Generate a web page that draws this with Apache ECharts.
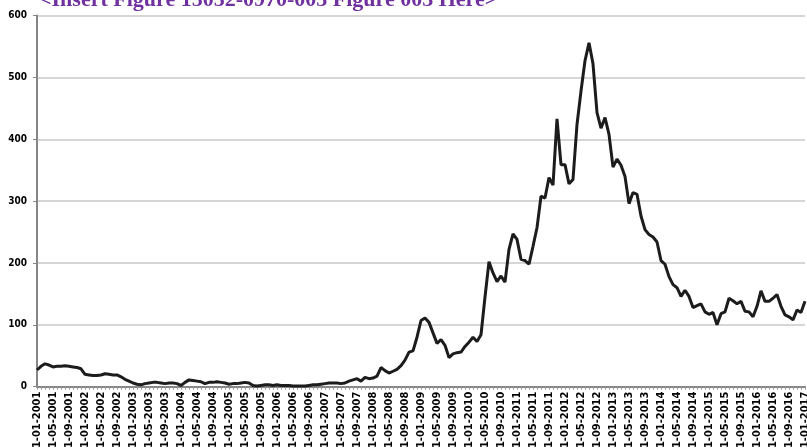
<!DOCTYPE html>
<html>
<head>
<meta charset="utf-8">
<title>Figure 003</title>
<script src="https://cdn.jsdelivr.net/npm/echarts@6/dist/echarts.min.js"></script>
<style>
  html, body { margin: 0; padding: 0; background: #fff; }
  #chart { width: 807px; height: 448px; }
</style>
</head>
<body>
<div id="chart"></div>
<script>
// monthly series, Jan 2001 .. Jan 2017 (one row per year)
const monthlyValues = [
  27, 33, 37, 35, 32, 33, 33, 34, 33, 32, 31, 29,
  20, 19, 18, 18, 19, 21, 20, 19, 19, 16, 12, 9,
  6, 4, 3, 5, 6, 7, 7, 6, 5, 6, 6, 5,
  2, 7, 11, 10, 9, 8, 5, 7, 7, 8, 7, 6,
  4, 5, 5, 6, 7, 6, 2, 1, 2, 3, 3, 2,
  3, 2, 2, 2, 1, 1, 1, 1, 2, 3, 3, 4,
  5, 6, 6, 6, 5, 6, 9, 11, 13, 9, 15, 13,
  14, 17, 31, 26, 22, 25, 28, 34, 43, 56, 58, 80,
  107, 111, 104, 87, 70, 76, 67, 47, 53, 55, 56, 65,
  72, 80, 73, 84, 145, 202, 184, 170, 179, 169, 222, 247,
  238, 206, 204, 198, 227, 257, 308, 305, 338, 326, 433, 359,
  359, 328, 335, 424, 478, 527, 556, 522, 443, 418, 435, 408,
  355, 368, 358, 340, 296, 314, 311, 276, 254, 246, 242, 234,
  204, 198, 178, 165, 160, 146, 156, 146, 128, 131, 134, 121,
  117, 120, 100, 118, 121, 143, 139, 134, 138, 122, 121, 113,
  130, 155, 138, 138, 143, 149, 130, 116, 113, 108, 124, 120,
  138
];

const firstYear = 2001;
const yTicks = [0, 100, 200, 300, 400, 500, 600];
const titleText = '<Insert Figure 15052-0970-003 Figure 003 Here>';

// category labels in dd-mm-yyyy form
const monthLabels = monthlyValues.map((v, i) => {
  const year = firstYear + Math.floor(i / 12);
  const month = String(i % 12 + 1).padStart(2, '0');
  return '01-' + month + '-' + year;
});

const labelFont = '"DejaVu Sans Condensed", "DejaVu Sans", sans-serif';

const chart = echarts.init(document.getElementById('chart'));
chart.setOption({
  animation: false,
  title: {
    text: titleText,
    left: 34,
    top: -16,
    textStyle: {
      fontFamily: '"Liberation Serif", "Times New Roman", serif',
      fontWeight: 'bold',
      fontSize: 22,
      color: '#7030a0'
    }
  },
  grid: {
    left: 37,
    right: 2,
    top: 15.6,
    bottom: 61.3,
    outerBoundsMode: 'none'
  },
  xAxis: {
    type: 'category',
    boundaryGap: false,
    data: monthLabels,
    axisLine: { lineStyle: { color: '#868686', width: 2 } },
    axisTick: { interval: 0, length: 3, lineStyle: { color: '#969696' } },
    axisLabel: {
      interval: 3,
      rotate: 90,
      margin: 5,
      fontFamily: labelFont,
      fontWeight: 'bold',
      fontSize: 11,
      color: '#000'
    },
    splitLine: { show: false }
  },
  yAxis: {
    type: 'value',
    min: yTicks[0],
    max: yTicks[yTicks.length - 1],
    interval: 100,
    axisLine: { show: true, lineStyle: { color: '#868686', width: 2 } },
    axisTick: { show: true, length: 4, lineStyle: { color: '#868686' } },
    axisLabel: {
      margin: 10,
      fontFamily: labelFont,
      fontWeight: 'bold',
      fontSize: 10,
      color: '#000'
    },
    splitLine: { lineStyle: { color: '#c8c8c8', width: 1.5 } }
  },
  series: [{
    type: 'line',
    data: monthlyValues,
    showSymbol: false,
    lineStyle: { color: '#1c1c1c', width: 3 }
  }]
});
</script>
</body>
</html>
